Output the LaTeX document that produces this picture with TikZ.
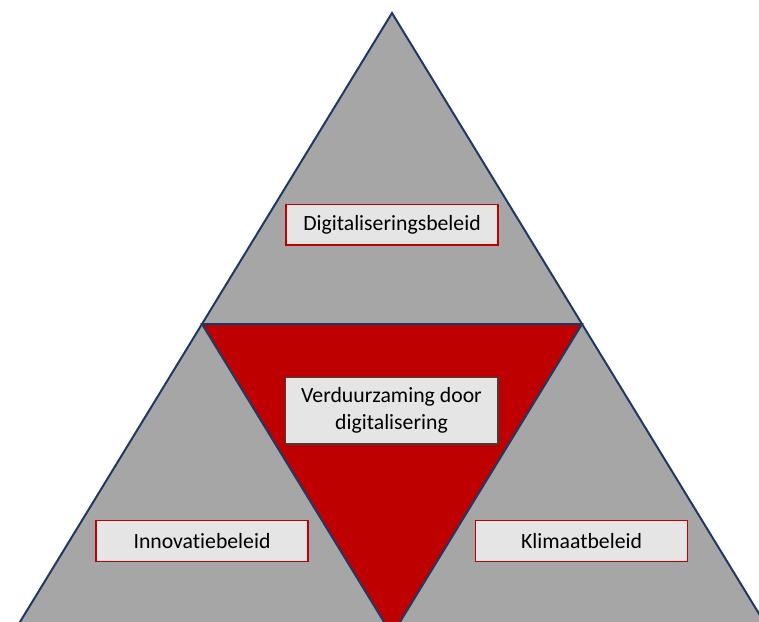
\documentclass[tikz,border=0pt]{standalone}
\usepackage{fontspec}
\setmainfont[Ligatures=NoCommon]{Carlito}
\usetikzlibrary{positioning}

\begin{document}
\begin{tikzpicture}[
            x=0.75pt,y=-0.75pt,
            beleid/.style={draw=rdx,fill=lgx,line width=1pt,minimum width=159pt,minimum height=30.5pt,
                           font=\fontsize{16.3}{20.5}\selectfont,inner sep=0pt},
            kern/.style={draw=dkx,fill=lgx,line width=1pt,minimum width=159.5pt,minimum height=50pt,
                           font=\fontsize{16.3}{20.5}\selectfont,align=center,inner sep=0pt}
        ]
            \colorlet{gyx}{black!35}
            \colorlet{rdx}{red!75!black}
            \colorlet{lgx}{black!10}
            \colorlet{dkx}{black!75}
            \definecolor{nvx}{HTML}{1F3864}

            \useasboundingbox (0,0) rectangle (759,621);
            \clip (0,0) rectangle (759,621);

            \coordinate (top) at (392,13);
            \coordinate (lb)  at (12,635);
            \coordinate (rb)  at (772,635);
            \coordinate (ml)  at (202,324);
            \coordinate (mr)  at (582,324);
            \coordinate (mb)  at (392,635);

            \draw [line width=1.5pt,nvx,fill=gyx,line join=miter] (top) -- (rb) -- (lb) -- cycle;
            \draw [line width=1.5pt,nvx,fill=rdx,line join=miter] (ml) -- (mr) -- (mb) -- cycle;

            \node (dig)  [beleid] at (392,224.5) {Digitaliseringsbeleid};
            \node (verd) [kern]   at (391.5,410.5) {Verduurzaming door\\digitalisering};
            \node (inno) [beleid] at (202,541)   {Innovatiebeleid};
            \node (klim) [beleid] at (581.5,541) {Klimaatbeleid};
        \end{tikzpicture}
\end{document}
